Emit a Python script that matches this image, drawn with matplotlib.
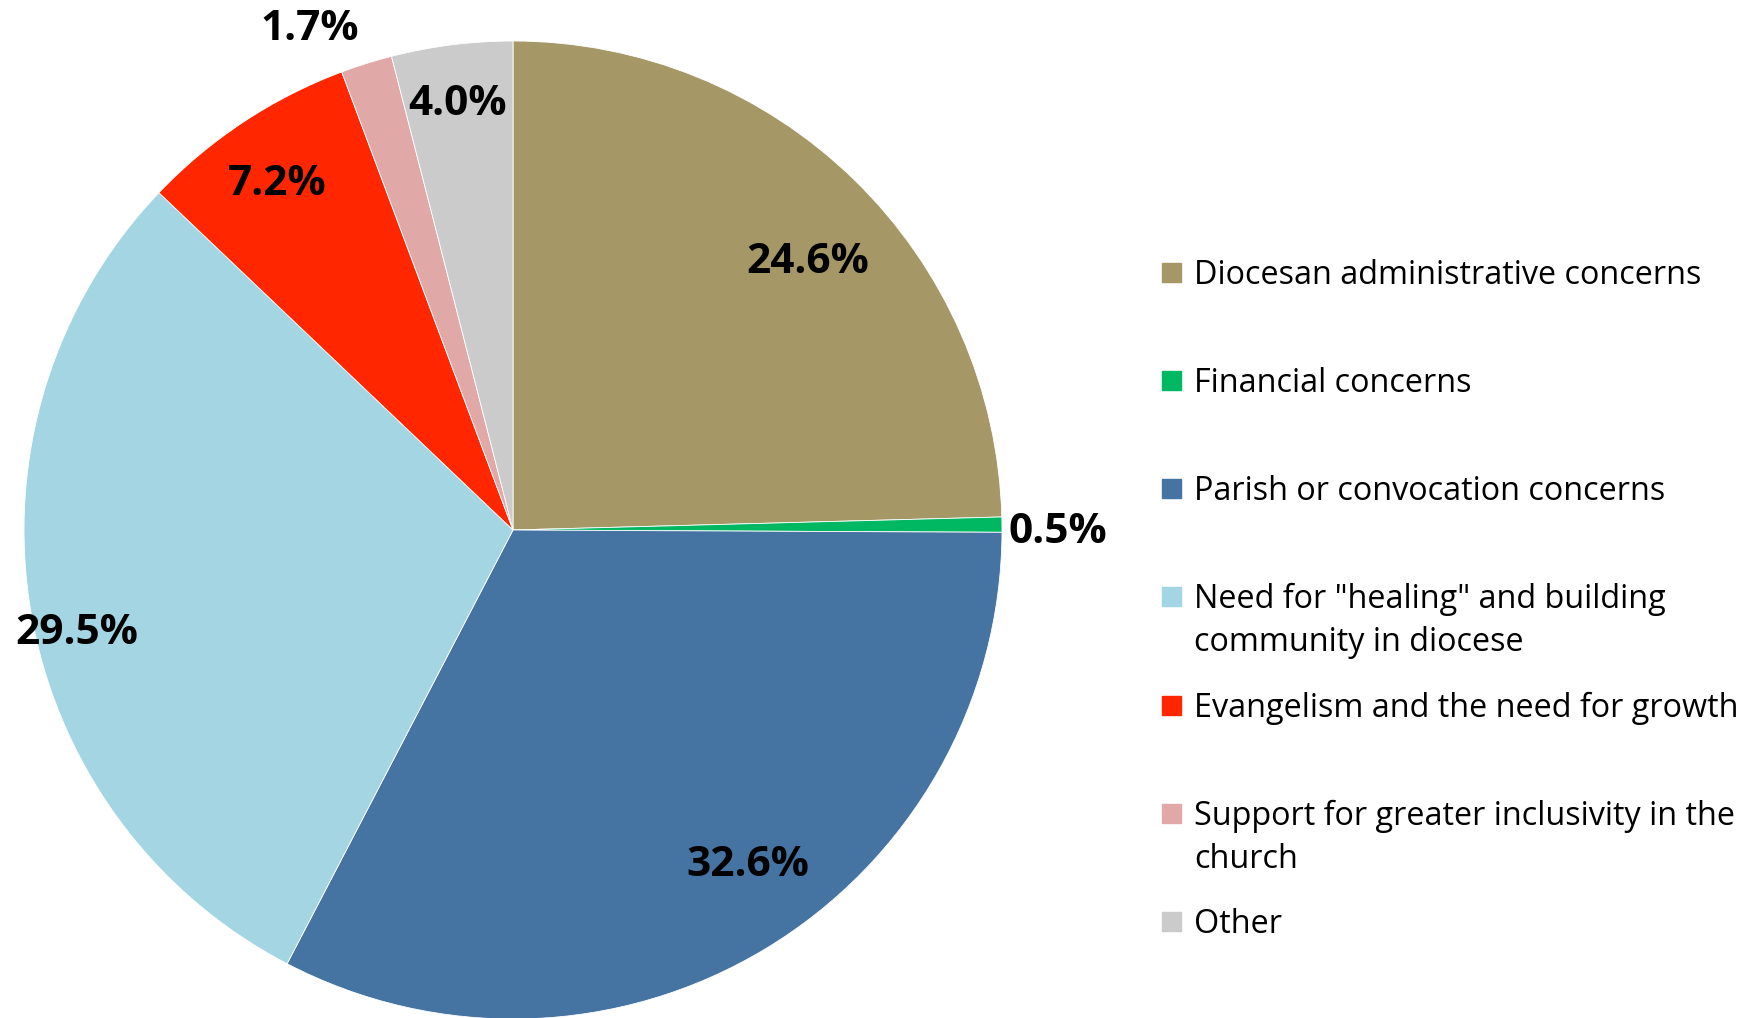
import matplotlib.pyplot as plt
import numpy as np

categories = ['Diocesan administrative concerns', 'Financial concerns',
              'Parish or convocation concerns',
              'Need for "healing" and building\ncommunity in diocese',
              'Evangelism and the need for growth',
              'Support for greater inclusivity in the\nchurch', 'Other']
values = [24.6, 0.5, 32.6, 29.5, 7.2, 1.7, 4.0]
colors = ['#A59866', '#00B862', '#4573A2', '#A3D5E3', '#FF2600', '#E1A8A8', '#CBCBCB']

# label placement per slice: distance (fraction of radius) and angle nudge (deg)
label_dist = [0.82, 1.115, 0.83, 0.915, 0.863, 1.113, 0.887]
label_rot = [-3.0, -0.4, 4.3, 3.4, 0.6, 4.5, 0.1]

W, H = 1765, 1018
fig = plt.figure(figsize=(W / 100, H / 100), dpi=100)
ax = fig.add_axes([0, 0, 1, 1])
ax.axis('off')

font = ['Open Sans', 'DejaVu Sans']
cx, cy, r = 513, H - 530, 489

wedges, _ = ax.pie(values, colors=colors, startangle=90, counterclock=False,
                   center=(cx, cy), radius=r,
                   wedgeprops=dict(edgecolor='white', linewidth=0.6))
ax.set_xlim(0, W)
ax.set_ylim(0, H)
ax.set_aspect('equal')

for w, v, d, rot in zip(wedges, values, label_dist, label_rot):
    ang = np.deg2rad((w.theta1 + w.theta2) / 2 + rot)
    x = cx + d * r * np.cos(ang)
    y = cy + d * r * np.sin(ang)
    # baseline placed half a cap height below the wanted centre
    ax.text(x, y - 15, f'{v:.1f}%', ha='center', va='baseline', fontsize=30.5,
            fontweight='bold', family=font)

# legend drawn by hand so the marker sits at the first line
y0, step, line_h = 272, 108.3, 43
for i, (lab, c) in enumerate(zip(categories, colors)):
    yc = y0 + i * step
    ax.add_patch(plt.Rectangle((1162, H - yc - 9.5), 19, 19, color=c))
    for j, line in enumerate(lab.split('\n')):
        ax.text(1194, H - (yc + j * line_h) - 11.5, line, ha='left', va='baseline',
                fontsize=23.3, family=font)

fig.savefig('out.png', dpi=100)
